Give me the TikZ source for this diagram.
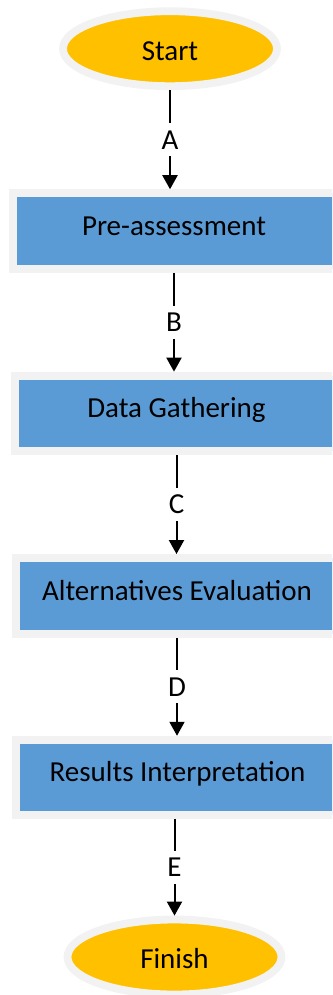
\documentclass[tikz,border=0pt]{standalone}
\usepackage{fontspec}
\setmainfont{Carlito}
\usetikzlibrary{arrows.meta,shapes.geometric}
\definecolor{haloGray}{HTML}{F2F2F2}
\definecolor{stepBlue}{HTML}{5B9BD5}
\definecolor{termGold}{HTML}{FFC000}
\begin{document}
\begin{tikzpicture}[x=1pt,y=-1pt,
  every node/.style={font=\fontsize{29}{34}\selectfont},
  terminal/.style={ellipse, fill=termGold, draw=haloGray, line width=7.8pt,
    minimum width=214pt, minimum height=75pt, inner sep=0pt,
    text height=22.7pt, text depth=0pt},
  stepbox/.style={rectangle, fill=stepBlue, draw=haloGray, line width=8pt,
    minimum width=323pt, minimum height=75.5pt, inner sep=0pt,
    text height=18.7pt, text depth=10pt},
  flow/.style={line width=2pt, -{Triangle[length=14pt,width=15pt]}},
  tag/.style={fill=white, inner sep=7pt, text height=18.7pt, text depth=0pt}
]
\useasboundingbox (0,0) rectangle (332,995);
\clip (0,0) rectangle (332,995);

% process chain
\node[terminal] (start) at (170,48.7)  {Start};
\node[stepbox]  (pre)   at (174,231)   {Pre-assessment};
\node[stepbox]  (data)  at (176.5,413.4) {Data Gathering};
\node[stepbox]  (alt)   at (177,595.8) {Alternatives Evaluation};
\node[stepbox]  (res)   at (177.5,777.5) {Results Interpretation};
\node[terminal] (fin)   at (174.5,957) {Finish};

% labelled transitions
\draw[flow] (start.south) -- node[tag] {A} (start.south |- pre.north);
\draw[flow] (pre.south)   -- node[tag] {B} (pre.south |- data.north);
\draw[flow] (data.south)  -- node[tag] {C} (data.south |- alt.north);
\draw[flow] (alt.south)   -- node[tag] {D} (alt.south |- res.north);
\draw[flow] (fin.north |- res.south) -- node[tag] {E} (fin.north);
\end{tikzpicture}
\end{document}
